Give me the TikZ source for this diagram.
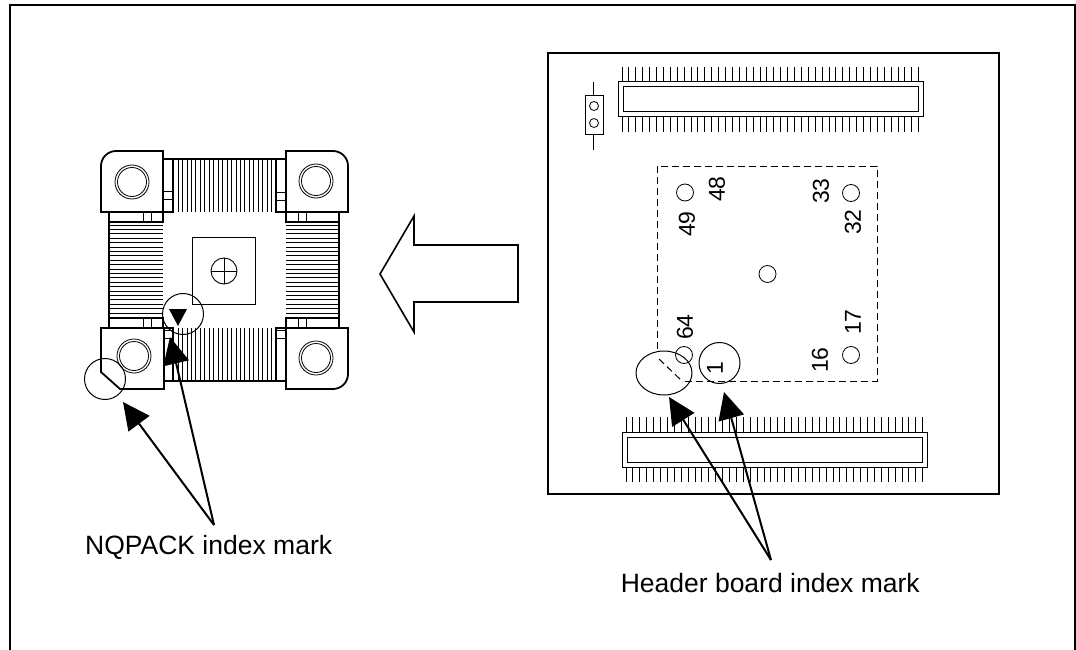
\documentclass[tikz,border=0pt]{standalone}
\usepackage{fontspec}
\setmainfont{Liberation Sans}
\usetikzlibrary{shapes,arrows.meta,positioning,calc}
% one screw: circle pair in the middle of a foot
\newcommand{\mscrew}[3]{
  \node [draw,circle,line width=0.8pt,minimum size=34pt,inner sep=0pt] (#3) at (#1,#2) {};
  \draw [line width=0.8pt] (#1,#2) circle (14.5);
}
% post with two small squares, at the side of a comb
\newcommand{\mpost}[4]{
  \draw [line width=1.8pt] (#1,#2) rectangle (#1+10,#3);
  \draw [line width=0.8pt] (#1,#4) -- (#1+10,#4) (#1,#4+8) -- (#1+10,#4+8);
}
\newcommand{\mbar}[4]{
  \draw [line width=1.8pt] (#1,#3) rectangle (#2,#3+10);
  \draw [line width=0.8pt] (#4,#3) rectangle (#4+8,#3+10);
}
% connector with two rows of pins
\newcommand{\mconn}[5]{
  \draw [line width=1pt] (#1,#2) rectangle (#3,#2+35);
  \draw [line width=1pt] (#1+5,#2+5) rectangle (#3-5,#2+30);
  \foreach \i in {0,...,43} {
    \draw [line width=0.9pt] (#4+\i*#5,#2-15) -- (#4+\i*#5,#2);
    \draw [line width=0.9pt] (#4+\i*#5,#2+35) -- (#4+\i*#5,#2+50);
  }
}
\tikzset{
  pinlabel/.style={rotate=90,font=\fontsize{23}{0}\selectfont,inner sep=0pt},
  marktext/.style={font=\fontsize{26.5}{0}\selectfont,inner sep=0pt},
  hole/.style={draw,circle,line width=0.8pt,minimum size=17pt,inner sep=0pt},
  markring/.style={draw,line width=1pt,inner sep=0pt},
  leader/.style={line width=2pt,-{Triangle[length=27pt,width=26pt]}},
  block/.style={line width=1.8pt,fill=white},
  socket/.style={line width=1pt,dash pattern=on 7pt off 4pt}
}

\begin{document}
\begin{tikzpicture}[x=1pt,y=-1pt]
  \useasboundingbox (0,0) rectangle (1076,650);

  % frame
  \draw [line width=2pt] (10,650) -- (10,5) -- (1075,5) -- (1075,650);

  % NQPACK combs
  \foreach \i in {0,...,21} {
    \draw [line width=0.7pt] (178+\i*4.45,159) -- (178+\i*4.45,212);
    \draw [line width=0.7pt] (178+\i*4.45,328) -- (178+\i*4.45,381);
    \draw [line width=0.7pt] (109,225+\i*4.4) -- (163,225+\i*4.4);
    \draw [line width=0.7pt] (286,225+\i*4.4) -- (339,225+\i*4.4);
  }
  \draw [line width=1.8pt] (163,159) -- (286,159);
  \draw [line width=1.8pt] (163,381) -- (286,381);
  \draw [line width=1.8pt] (109,212) -- (109,328);
  \draw [line width=1.8pt] (339,212) -- (339,328);
  \mpost{163}{159}{212}{191}
  \mpost{276}{159}{212}{192}
  \mpost{163}{328}{381}{330}
  \mpost{276}{328}{381}{330}
  \mbar{109}{163}{212}{143}
  \mbar{286}{339}{212}{298}
  \mbar{109}{163}{318}{143}
  \mbar{286}{339}{318}{298}

  % NQPACK feet
  \draw [block] (163,212) -- (101,212) [rounded corners=15pt] -- (101,151) [sharp corners] -- (163,151) -- cycle;
  \draw [block] (286,212) -- (348,212) [rounded corners=15pt] -- (348,151) [sharp corners] -- (286,151) -- cycle;
  \draw [block] (164,328) -- (101,328) -- (101,372) -- (120,389) -- (164,389) -- cycle;
  \draw [block] (286,328) -- (348,328) [rounded corners=15pt] -- (348,389) [sharp corners] -- (286,389) -- cycle;
  \mscrew{132}{182}{sa}
  \mscrew{316}{181}{sb}
  \mscrew{134}{356}{sc}
  \mscrew{316}{358}{sd}

  % NQPACK centre
  \draw [line width=0.9pt] (192,237) rectangle (255,304);
  \node [draw,circle,line width=0.9pt,minimum size=26pt,inner sep=0pt] (cross) at (224,271) {};
  \draw [line width=0.9pt] (cross.north) -- (cross.south) (cross.west) -- (cross.east);

  % NQPACK index
  \fill (169,309) -- (187,309) -- (178,326) -- cycle;
  \node [markring,circle,minimum size=41pt] (nqtri) at (183,314) {};
  \node [markring,circle,minimum size=41pt] (nqcut) at (105,379) {};

  % big arrow
  \draw [line width=1.6pt] (380,274) -- (414,216) -- (414,245) -- (518,245) -- (518,302) -- (414,302) -- (414,332) -- cycle;

  % header board
  \draw [line width=1.8pt] (548,53) rectangle (999,494);
  \mconn{618}{82}{923}{622}{6.9}
  \mconn{622}{432}{927}{626}{6.9}

  % jumper
  \draw [line width=1pt] (585,96) rectangle (603,135);
  \draw [line width=1pt] (593.5,82) -- (593.5,96) (593.5,135) -- (593.5,150);
  \node [draw,circle,line width=0.8pt,minimum size=9pt,inner sep=0pt] (ja) at (594,106) {};
  \node [draw,circle,line width=0.8pt,minimum size=9pt,inner sep=0pt] (jb) at (594,123) {};

  % socket outline
  \draw [socket] (685,381) -- (877,381) -- (877,166) -- (657,166) -- (657,351);
  \draw [socket] (659,359) -- (683,382);
  \node [hole] (h49) at (685,192.5) {};
  \node [hole] (h33) at (851,193) {};
  \node [hole] (hc) at (767.5,274) {};
  \node [hole] (h64) at (684,355) {};
  \node [hole] (h16) at (851,355) {};

  \node [pinlabel] (l48) at (717,189) {48};
  \node [pinlabel] (l33) at (821,191) {33};
  \node [pinlabel] (l49) at (687,224) {49};
  \node [pinlabel] (l32) at (853,222) {32};
  \node [pinlabel] (l64) at (685,327) {64};
  \node [pinlabel] (l17) at (853,322) {17};
  \node [pinlabel] (l16) at (820,360) {16};
  \node [pinlabel] (l1) at (715,368) {1};

  % header index
  \node [markring,ellipse,minimum width=56pt,minimum height=44pt] (hbcut) at (664,373) {};
  \node [markring,circle,minimum size=41pt] (hbone) at (719.5,363) {};

  % leaders
  \coordinate (nqapex) at (214,525);
  \coordinate (nqtipa) at (123,402);
  \coordinate (nqtipb) at (170,337);
  \coordinate (hbapex) at (771,560);
  \coordinate (hbtipa) at (669,397);
  \coordinate (hbtipb) at (724,392);
  \draw [leader] (nqapex) -- (nqtipa);
  \draw [leader] (nqapex) -- (nqtipb);
  \draw [leader] (hbapex) -- (hbtipa);
  \draw [leader] (hbapex) -- (hbtipb);

  \node [marktext,anchor=west] (nqtext) at (85,547) {NQPACK index mark};
  \node [marktext,anchor=east] (hbtext) at (920,583) {Header board index mark};
\end{tikzpicture}
\end{document}
